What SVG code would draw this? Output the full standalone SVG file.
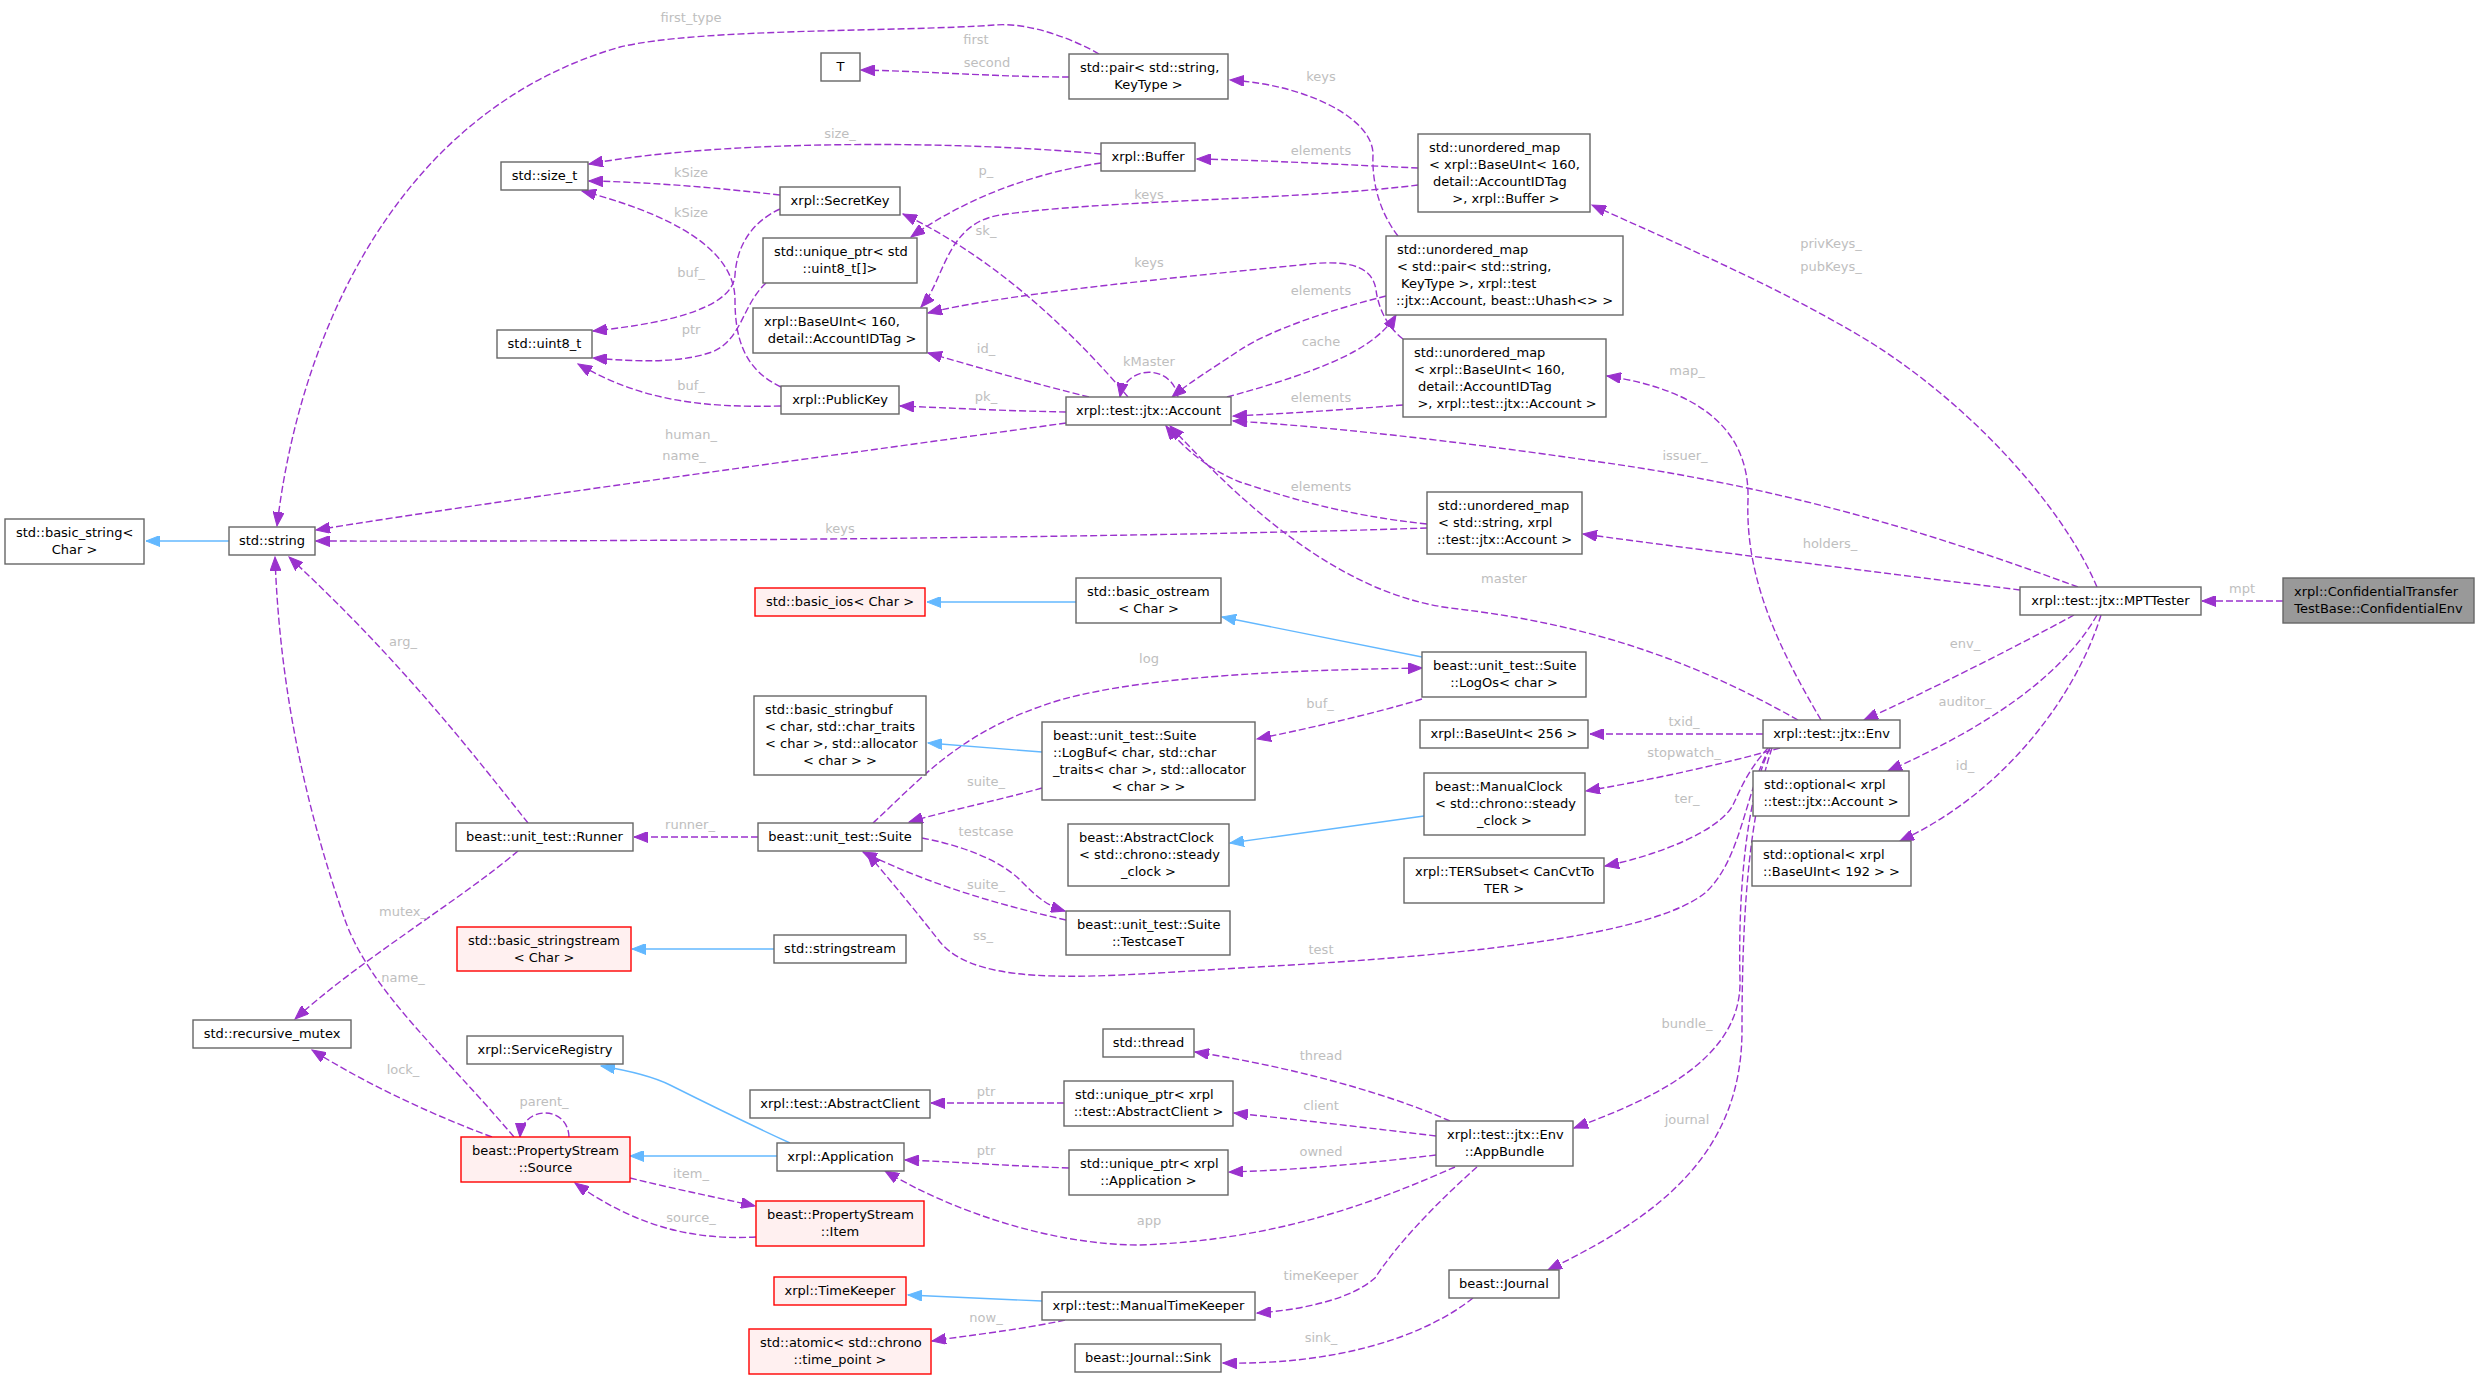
<svg xmlns="http://www.w3.org/2000/svg" width="2475" height="1379" viewBox="0 0 2475 1379">
<style>
.nd rect{fill:#ffffff;stroke:#666666;stroke-width:1.4}
.rd rect{fill:#fff0f0;stroke:#ff0000;stroke-width:1.4}
.rt rect{fill:#999999;stroke:#666666;stroke-width:1.4}
text{font-family:"DejaVu Sans","Liberation Sans",sans-serif;font-size:13px}
.nd text,.rd text,.rt text{fill:#000000}
.c{text-anchor:middle}
.lb text{fill:#bebebe;text-anchor:middle}
.e path{fill:none;stroke:#9a32cd;stroke-width:1.4;stroke-dasharray:7,3;marker-end:url(#ap)}
.i path{fill:none;stroke:#63b8ff;stroke-width:1.4;marker-end:url(#ab)}
</style>
<defs>
<marker id="ap" markerUnits="userSpaceOnUse" markerWidth="15" markerHeight="11" viewBox="0 0 15 11" refX="14" refY="5.5" orient="auto"><path d="M0,0 L14,5.5 L0,11 Z" fill="#9a32cd" stroke="#9a32cd" stroke-width="1"/></marker>
<marker id="ab" markerUnits="userSpaceOnUse" markerWidth="15" markerHeight="11" viewBox="0 0 15 11" refX="14" refY="5.5" orient="auto"><path d="M0,0 L14,5.5 L0,11 Z" fill="#63b8ff" stroke="#63b8ff" stroke-width="1"/></marker>
</defs>
<rect width="2475" height="1379" fill="#ffffff"/>

<g id="edges">
<g class="e">
<path d="M1099,54 C1075,40 1030,22 995,25 C900,32 700,28 620,47 C400,110 300,330 277,526"/>
<path d="M1069,77 C1000,77 920,71 861,70"/>
<path d="M1398,236 C1378,210 1372,180 1373,155 C1374,120 1310,85 1230,80"/>
<path d="M1101,154 C950,140 720,140 589,164"/>
<path d="M1101,163 C1040,172 970,195 911,237"/>
<path d="M780,195 C720,188 650,182 589,181"/>
<path d="M781,387 C745,370 735,340 735,300 C735,262 700,222 582,191"/>
<path d="M780,209 C752,222 737,245 735,275 C733,305 680,322 593,331"/>
<path d="M766,283 C742,305 742,340 712,352 C680,363 640,362 593,358"/>
<path d="M781,406 C700,408 640,400 578,364"/>
<path d="M1418,185 C1300,200 1100,200 1000,215 C945,224 945,280 921,307"/>
<path d="M1418,168 C1350,165 1260,160 1197,159"/>
<path d="M1403,339 C1385,325 1378,305 1376,290 C1372,262 1340,260 1300,265 C1150,280 1000,295 928,313"/>
<path d="M1128,397 C1080,340 1000,260 903,214"/>
<path d="M1386,296 C1330,310 1270,330 1240,350 C1210,370 1190,382 1172,397"/>
<path d="M1227,397 C1290,380 1340,362 1365,345 C1380,335 1390,325 1396,315"/>
<path d="M1403,405 C1340,410 1280,414 1233,416"/>
<path d="M2078,587 C1950,540 1800,490 1600,462 C1450,440 1320,426 1233,421"/>
<path d="M1178,397 C1172,364 1126,364 1120,397"/>
<path d="M1089,397 C1040,385 980,368 928,353"/>
<path d="M1066,412 C1010,411 950,408 900,406"/>
<path d="M1066,423 C800,460 500,500 316,530"/>
<path d="M1427,528 C1200,536 700,542 316,541"/>
<path d="M1427,524 C1340,515 1280,495 1240,482 C1210,470 1185,450 1166,426"/>
<path d="M1798,720 C1700,665 1600,625 1450,608 C1330,592 1230,490 1170,426"/>
<path d="M2097,587 C2060,500 1960,395 1860,336 C1770,283 1680,245 1592,205"/>
<path d="M2020,590 C1900,575 1700,550 1583,534"/>
<path d="M1821,720 C1780,650 1745,580 1748,500 C1750,430 1700,390 1607,376"/>
<path d="M2283,601 L2202,601"/>
<path d="M2074,615 C2010,650 1930,690 1864,720"/>
<path d="M2097,615 C2060,680 1980,730 1888,771"/>
<path d="M2101,615 C2078,690 2010,790 1900,841"/>
<path d="M1763,734 L1590,734"/>
<path d="M1780,748 C1720,765 1650,780 1586,791"/>
<path d="M1768,748 C1748,770 1740,790 1733,805 C1720,830 1660,855 1605,866"/>
<path d="M1770,748 C1745,790 1742,860 1705,893 C1640,945 1380,960 1240,968 C1100,976 980,990 940,942 C915,910 890,880 867,853"/>
<path d="M1066,920 C1000,905 930,885 863,852"/>
<path d="M922,838 C960,845 1000,860 1020,880 C1035,895 1045,905 1065,911"/>
<path d="M1042,788 C1000,800 950,810 909,822"/>
<path d="M873,823 C920,780 960,730 1060,700 C1150,675 1300,670 1422,668"/>
<path d="M1422,699 C1370,715 1300,730 1257,739"/>
<path d="M758,837 L634,837"/>
<path d="M528,823 C470,750 400,660 289,557"/>
<path d="M518,851 C460,900 360,960 295,1019"/>
<path d="M514,1137 C440,1050 370,990 345,920 C310,820 280,700 275,557"/>
<path d="M492,1137 C420,1110 360,1080 312,1050"/>
<path d="M569,1137 C568,1105 522,1105 520,1137"/>
<path d="M630,1178 C670,1188 710,1196 755,1206"/>
<path d="M756,1237 C700,1240 640,1230 575,1183"/>
<path d="M1450,1121 C1380,1090 1280,1065 1195,1052"/>
<path d="M1436,1136 C1370,1128 1300,1120 1234,1113"/>
<path d="M1064,1103 L931,1103"/>
<path d="M1436,1155 C1370,1163 1300,1170 1229,1172"/>
<path d="M1069,1168 C1010,1166 960,1162 905,1160"/>
<path d="M1455,1167 C1380,1200 1280,1240 1140,1245 C1050,1245 950,1210 885,1171"/>
<path d="M1477,1167 C1440,1200 1400,1240 1375,1278 C1350,1300 1300,1310 1257,1313"/>
<path d="M1065,1320 C1020,1330 970,1335 932,1341"/>
<path d="M1473,1298 C1420,1340 1330,1365 1223,1363"/>
<path d="M1770,748 C1745,800 1738,900 1740,980 C1742,1060 1650,1100 1574,1128"/>
<path d="M1772,748 C1748,820 1742,920 1742,1030 C1742,1160 1650,1220 1548,1270"/>
</g>
<g class="i">
<path d="M229,541 L146,541"/>
<path d="M1076,602 L927,602"/>
<path d="M1042,752 L928,743"/>
<path d="M1422,657 L1222,617"/>
<path d="M1424,816 L1230,843"/>
<path d="M774,949 L632,949"/>
<path d="M790,1143 C740,1120 700,1100 670,1085 C650,1075 625,1070 601,1066"/>
<path d="M777,1156 L630,1156"/>
<path d="M1042,1301 L908,1295"/>
</g>
<g class="lb">
<text x="691" y="21.5">first_type</text>
<text x="976" y="43.5">first</text>
<text x="987" y="66.5">second</text>
<text x="1321" y="80.5">keys</text>
<text x="840" y="137.5">size_</text>
<text x="1321" y="155">elements</text>
<text x="691" y="176.5">kSize</text>
<text x="986" y="174.5">p_</text>
<text x="1149" y="198.5">keys</text>
<text x="691" y="217">kSize</text>
<text x="986" y="234.5">sk_</text>
<text x="1149" y="266.5">keys</text>
<text x="691" y="277">buf_</text>
<text x="1321" y="295">elements</text>
<text x="691" y="333.5">ptr</text>
<text x="1321" y="346">cache</text>
<text x="986" y="352.5">id_</text>
<text x="1149" y="365.5">kMaster</text>
<text x="691" y="389.5">buf_</text>
<text x="986" y="400.5">pk_</text>
<text x="1321" y="402">elements</text>
<text x="691" y="438.5">human_</text>
<text x="684" y="459.5">name_</text>
<text x="1831" y="248">privKeys_</text>
<text x="1831" y="271">pubKeys_</text>
<text x="1687" y="374.5">map_</text>
<text x="1685" y="459.5">issuer_</text>
<text x="1321" y="491">elements</text>
<text x="840" y="533">keys</text>
<text x="1830" y="547.5">holders_</text>
<text x="1504" y="583">master</text>
<text x="2242" y="593">mpt</text>
<text x="403" y="646">arg_</text>
<text x="1149" y="663">log</text>
<text x="1965" y="648">env_</text>
<text x="1965" y="706">auditor_</text>
<text x="1320" y="708">buf_</text>
<text x="1684" y="726">txid_</text>
<text x="1684" y="756.5">stopwatch_</text>
<text x="1965" y="769.5">id_</text>
<text x="986" y="786">suite_</text>
<text x="1687" y="803">ter_</text>
<text x="690" y="829">runner_</text>
<text x="986" y="835.5">testcase</text>
<text x="986" y="888.5">suite_</text>
<text x="403" y="916">mutex_</text>
<text x="983" y="939.5">ss_</text>
<text x="1321" y="953.5">test</text>
<text x="403" y="982">name_</text>
<text x="1687" y="1028">bundle_</text>
<text x="1321" y="1060">thread</text>
<text x="403" y="1074">lock_</text>
<text x="986" y="1095.5">ptr</text>
<text x="544" y="1105.5">parent_</text>
<text x="1321" y="1110">client</text>
<text x="1687" y="1124">journal</text>
<text x="1321" y="1156">owned</text>
<text x="986" y="1155">ptr</text>
<text x="691" y="1177.5">item_</text>
<text x="691" y="1222">source_</text>
<text x="1149" y="1224.5">app</text>
<text x="1321" y="1280">timeKeeper</text>
<text x="986" y="1322">now_</text>
<text x="1321" y="1342">sink_</text>
</g>
</g>

<g id="n_basic_string" class="nd"><rect x="5" y="519" width="139" height="45"/><text x="16" y="537">std::basic_string&lt;</text><text class="c" x="74.5" y="554">Char &gt;</text></g>
<g id="n_string" class="nd"><rect x="229" y="527" width="86" height="28"/><text class="c" x="272" y="545">std::string</text></g>
<g id="n_size_t" class="nd"><rect x="501" y="162" width="87" height="28"/><text class="c" x="544.5" y="180">std::size_t</text></g>
<g id="n_uint8" class="nd"><rect x="497" y="330" width="95" height="28"/><text class="c" x="544.5" y="348">std::uint8_t</text></g>
<g id="n_T" class="nd"><rect x="821" y="53" width="39" height="28"/><text class="c" x="840.5" y="71">T</text></g>
<g id="n_pair" class="nd"><rect x="1069" y="54" width="159" height="45"/><text x="1080" y="72">std::pair&lt; std::string,</text><text class="c" x="1148.5" y="89">KeyType &gt;</text></g>
<g id="n_buffer" class="nd"><rect x="1101" y="143" width="94" height="28"/><text class="c" x="1148" y="161">xrpl::Buffer</text></g>
<g id="n_secretkey" class="nd"><rect x="780" y="187" width="120" height="28"/><text class="c" x="840" y="205">xrpl::SecretKey</text></g>
<g id="n_uptr_u8" class="nd"><rect x="763" y="238" width="154" height="45"/><text x="774" y="256">std::unique_ptr&lt; std</text><text class="c" x="840" y="273">::uint8_t[]&gt;</text></g>
<g id="n_baseuint160" class="nd"><rect x="753" y="308" width="174" height="45"/><text x="764" y="326">xrpl::BaseUInt&lt; 160,</text><text class="c" x="842" y="343">detail::AccountIDTag &gt;</text></g>
<g id="n_publickey" class="nd"><rect x="781" y="386" width="118" height="28"/><text class="c" x="840" y="404">xrpl::PublicKey</text></g>
<g id="n_account" class="nd"><rect x="1066" y="397" width="165" height="28"/><text class="c" x="1148.5" y="415">xrpl::test::jtx::Account</text></g>
<g id="n_map_buffer" class="nd"><rect x="1418" y="134" width="172" height="78"/><text x="1429" y="152">std::unordered_map</text><text x="1429" y="169">&lt; xrpl::BaseUInt&lt; 160,</text><text x="1433" y="186">detail::AccountIDTag</text><text class="c" x="1506" y="203">&gt;, xrpl::Buffer &gt;</text></g>
<g id="n_map_pair" class="nd"><rect x="1386" y="236" width="237" height="79"/><text x="1397" y="254">std::unordered_map</text><text x="1397" y="271">&lt; std::pair&lt; std::string,</text><text x="1401" y="288">KeyType &gt;, xrpl::test</text><text class="c" x="1504.5" y="305">::jtx::Account, beast::Uhash&lt;&gt; &gt;</text></g>
<g id="n_map_ba" class="nd"><rect x="1403" y="339" width="203" height="78"/><text x="1414" y="357">std::unordered_map</text><text x="1414" y="374">&lt; xrpl::BaseUInt&lt; 160,</text><text x="1418" y="391">detail::AccountIDTag</text><text class="c" x="1507" y="408">&gt;, xrpl::test::jtx::Account &gt;</text></g>
<g id="n_map_sa" class="nd"><rect x="1427" y="492" width="155" height="62"/><text x="1438" y="510">std::unordered_map</text><text x="1438" y="527">&lt; std::string, xrpl</text><text class="c" x="1504.5" y="544">::test::jtx::Account &gt;</text></g>
<g id="n_basic_ios" class="rd"><rect x="755" y="588" width="170" height="28"/><text class="c" x="840" y="606">std::basic_ios&lt; Char &gt;</text></g>
<g id="n_basic_ostream" class="nd"><rect x="1076" y="578" width="145" height="45"/><text x="1087" y="596">std::basic_ostream</text><text class="c" x="1148.5" y="613">&lt; Char &gt;</text></g>
<g id="n_basic_stringbuf" class="nd"><rect x="754" y="696" width="172" height="79"/><text x="765" y="714">std::basic_stringbuf</text><text x="765" y="731">&lt; char, std::char_traits</text><text x="765" y="748">&lt; char &gt;, std::allocator</text><text class="c" x="840" y="765">&lt; char &gt; &gt;</text></g>
<g id="n_logbuf" class="nd"><rect x="1042" y="722" width="213" height="78"/><text x="1053" y="740">beast::unit_test::Suite</text><text x="1053" y="757">::LogBuf&lt; char, std::char</text><text x="1053" y="774">_traits&lt; char &gt;, std::allocator</text><text class="c" x="1148.5" y="791">&lt; char &gt; &gt;</text></g>
<g id="n_logos" class="nd"><rect x="1422" y="652" width="164" height="45"/><text x="1433" y="670">beast::unit_test::Suite</text><text class="c" x="1504" y="687">::LogOs&lt; char &gt;</text></g>
<g id="n_suite" class="nd"><rect x="758" y="823" width="164" height="28"/><text class="c" x="840" y="841">beast::unit_test::Suite</text></g>
<g id="n_runner" class="nd"><rect x="456" y="823" width="177" height="28"/><text class="c" x="544.5" y="841">beast::unit_test::Runner</text></g>
<g id="n_abstractclock" class="nd"><rect x="1068" y="824" width="161" height="62"/><text x="1079" y="842">beast::AbstractClock</text><text x="1079" y="859">&lt; std::chrono::steady</text><text class="c" x="1148.5" y="876">_clock &gt;</text></g>
<g id="n_testcaset" class="nd"><rect x="1066" y="911" width="164" height="44"/><text x="1077" y="929">beast::unit_test::Suite</text><text class="c" x="1148" y="946">::TestcaseT</text></g>
<g id="n_basic_stringstream" class="rd"><rect x="457" y="927" width="174" height="44"/><text x="468" y="945">std::basic_stringstream</text><text class="c" x="544" y="962">&lt; Char &gt;</text></g>
<g id="n_stringstream" class="nd"><rect x="774" y="935" width="132" height="28"/><text class="c" x="840" y="953">std::stringstream</text></g>
<g id="n_recursive_mutex" class="nd"><rect x="193" y="1020" width="158" height="28"/><text class="c" x="272" y="1038">std::recursive_mutex</text></g>
<g id="n_serviceregistry" class="nd"><rect x="467" y="1036" width="156" height="28"/><text class="c" x="545" y="1054">xrpl::ServiceRegistry</text></g>
<g id="n_source" class="rd"><rect x="461" y="1137" width="169" height="45"/><text x="472" y="1155">beast::PropertyStream</text><text class="c" x="545.5" y="1172">::Source</text></g>
<g id="n_item" class="rd"><rect x="756" y="1201" width="168" height="45"/><text x="767" y="1219">beast::PropertyStream</text><text class="c" x="840" y="1236">::Item</text></g>
<g id="n_thread" class="nd"><rect x="1103" y="1029" width="91" height="28"/><text class="c" x="1148.5" y="1047">std::thread</text></g>
<g id="n_abstractclient" class="nd"><rect x="750" y="1090" width="180" height="28"/><text class="c" x="840" y="1108">xrpl::test::AbstractClient</text></g>
<g id="n_uptr_client" class="nd"><rect x="1064" y="1081" width="169" height="45"/><text x="1075" y="1099">std::unique_ptr&lt; xrpl</text><text class="c" x="1148.5" y="1116">::test::AbstractClient &gt;</text></g>
<g id="n_application" class="nd"><rect x="777" y="1143" width="127" height="28"/><text class="c" x="840.5" y="1161">xrpl::Application</text></g>
<g id="n_uptr_app" class="nd"><rect x="1069" y="1150" width="159" height="45"/><text x="1080" y="1168">std::unique_ptr&lt; xrpl</text><text class="c" x="1148.5" y="1185">::Application &gt;</text></g>
<g id="n_timekeeper" class="rd"><rect x="774" y="1277" width="132" height="28"/><text class="c" x="840" y="1295">xrpl::TimeKeeper</text></g>
<g id="n_manualtimekeeper" class="nd"><rect x="1042" y="1292" width="213" height="28"/><text class="c" x="1148.5" y="1310">xrpl::test::ManualTimeKeeper</text></g>
<g id="n_atomic" class="rd"><rect x="749" y="1329" width="182" height="45"/><text x="760" y="1347">std::atomic&lt; std::chrono</text><text class="c" x="840" y="1364">::time_point &gt;</text></g>
<g id="n_sink" class="nd"><rect x="1075" y="1344" width="146" height="28"/><text class="c" x="1148" y="1362">beast::Journal::Sink</text></g>
<g id="n_appbundle" class="nd"><rect x="1436" y="1121" width="137" height="45"/><text x="1447" y="1139">xrpl::test::jtx::Env</text><text class="c" x="1504.5" y="1156">::AppBundle</text></g>
<g id="n_journal" class="nd"><rect x="1449" y="1270" width="110" height="28"/><text class="c" x="1504" y="1288">beast::Journal</text></g>
<g id="n_baseuint256" class="nd"><rect x="1420" y="720" width="168" height="28"/><text class="c" x="1504" y="738">xrpl::BaseUInt&lt; 256 &gt;</text></g>
<g id="n_manualclock" class="nd"><rect x="1424" y="773" width="161" height="62"/><text x="1435" y="791">beast::ManualClock</text><text x="1435" y="808">&lt; std::chrono::steady</text><text class="c" x="1504.5" y="825">_clock &gt;</text></g>
<g id="n_tersubset" class="nd"><rect x="1404" y="858" width="200" height="45"/><text x="1415" y="876">xrpl::TERSubset&lt; CanCvtTo</text><text class="c" x="1504" y="893">TER &gt;</text></g>
<g id="n_env" class="nd"><rect x="1763" y="720" width="137" height="28"/><text class="c" x="1831.5" y="738">xrpl::test::jtx::Env</text></g>
<g id="n_opt_account" class="nd"><rect x="1753" y="771" width="156" height="45"/><text x="1764" y="789">std::optional&lt; xrpl</text><text class="c" x="1831" y="806">::test::jtx::Account &gt;</text></g>
<g id="n_opt_192" class="nd"><rect x="1752" y="841" width="159" height="45"/><text x="1763" y="859">std::optional&lt; xrpl</text><text class="c" x="1831.5" y="876">::BaseUInt&lt; 192 &gt; &gt;</text></g>
<g id="n_mpttester" class="nd"><rect x="2020" y="587" width="181" height="28"/><text class="c" x="2110.5" y="605">xrpl::test::jtx::MPTTester</text></g>
<g id="n_root" class="rt"><rect x="2283" y="578" width="191" height="45"/><text x="2294" y="596">xrpl::ConfidentialTransfer</text><text class="c" x="2378.5" y="613">TestBase::ConfidentialEnv</text></g>
</svg>
